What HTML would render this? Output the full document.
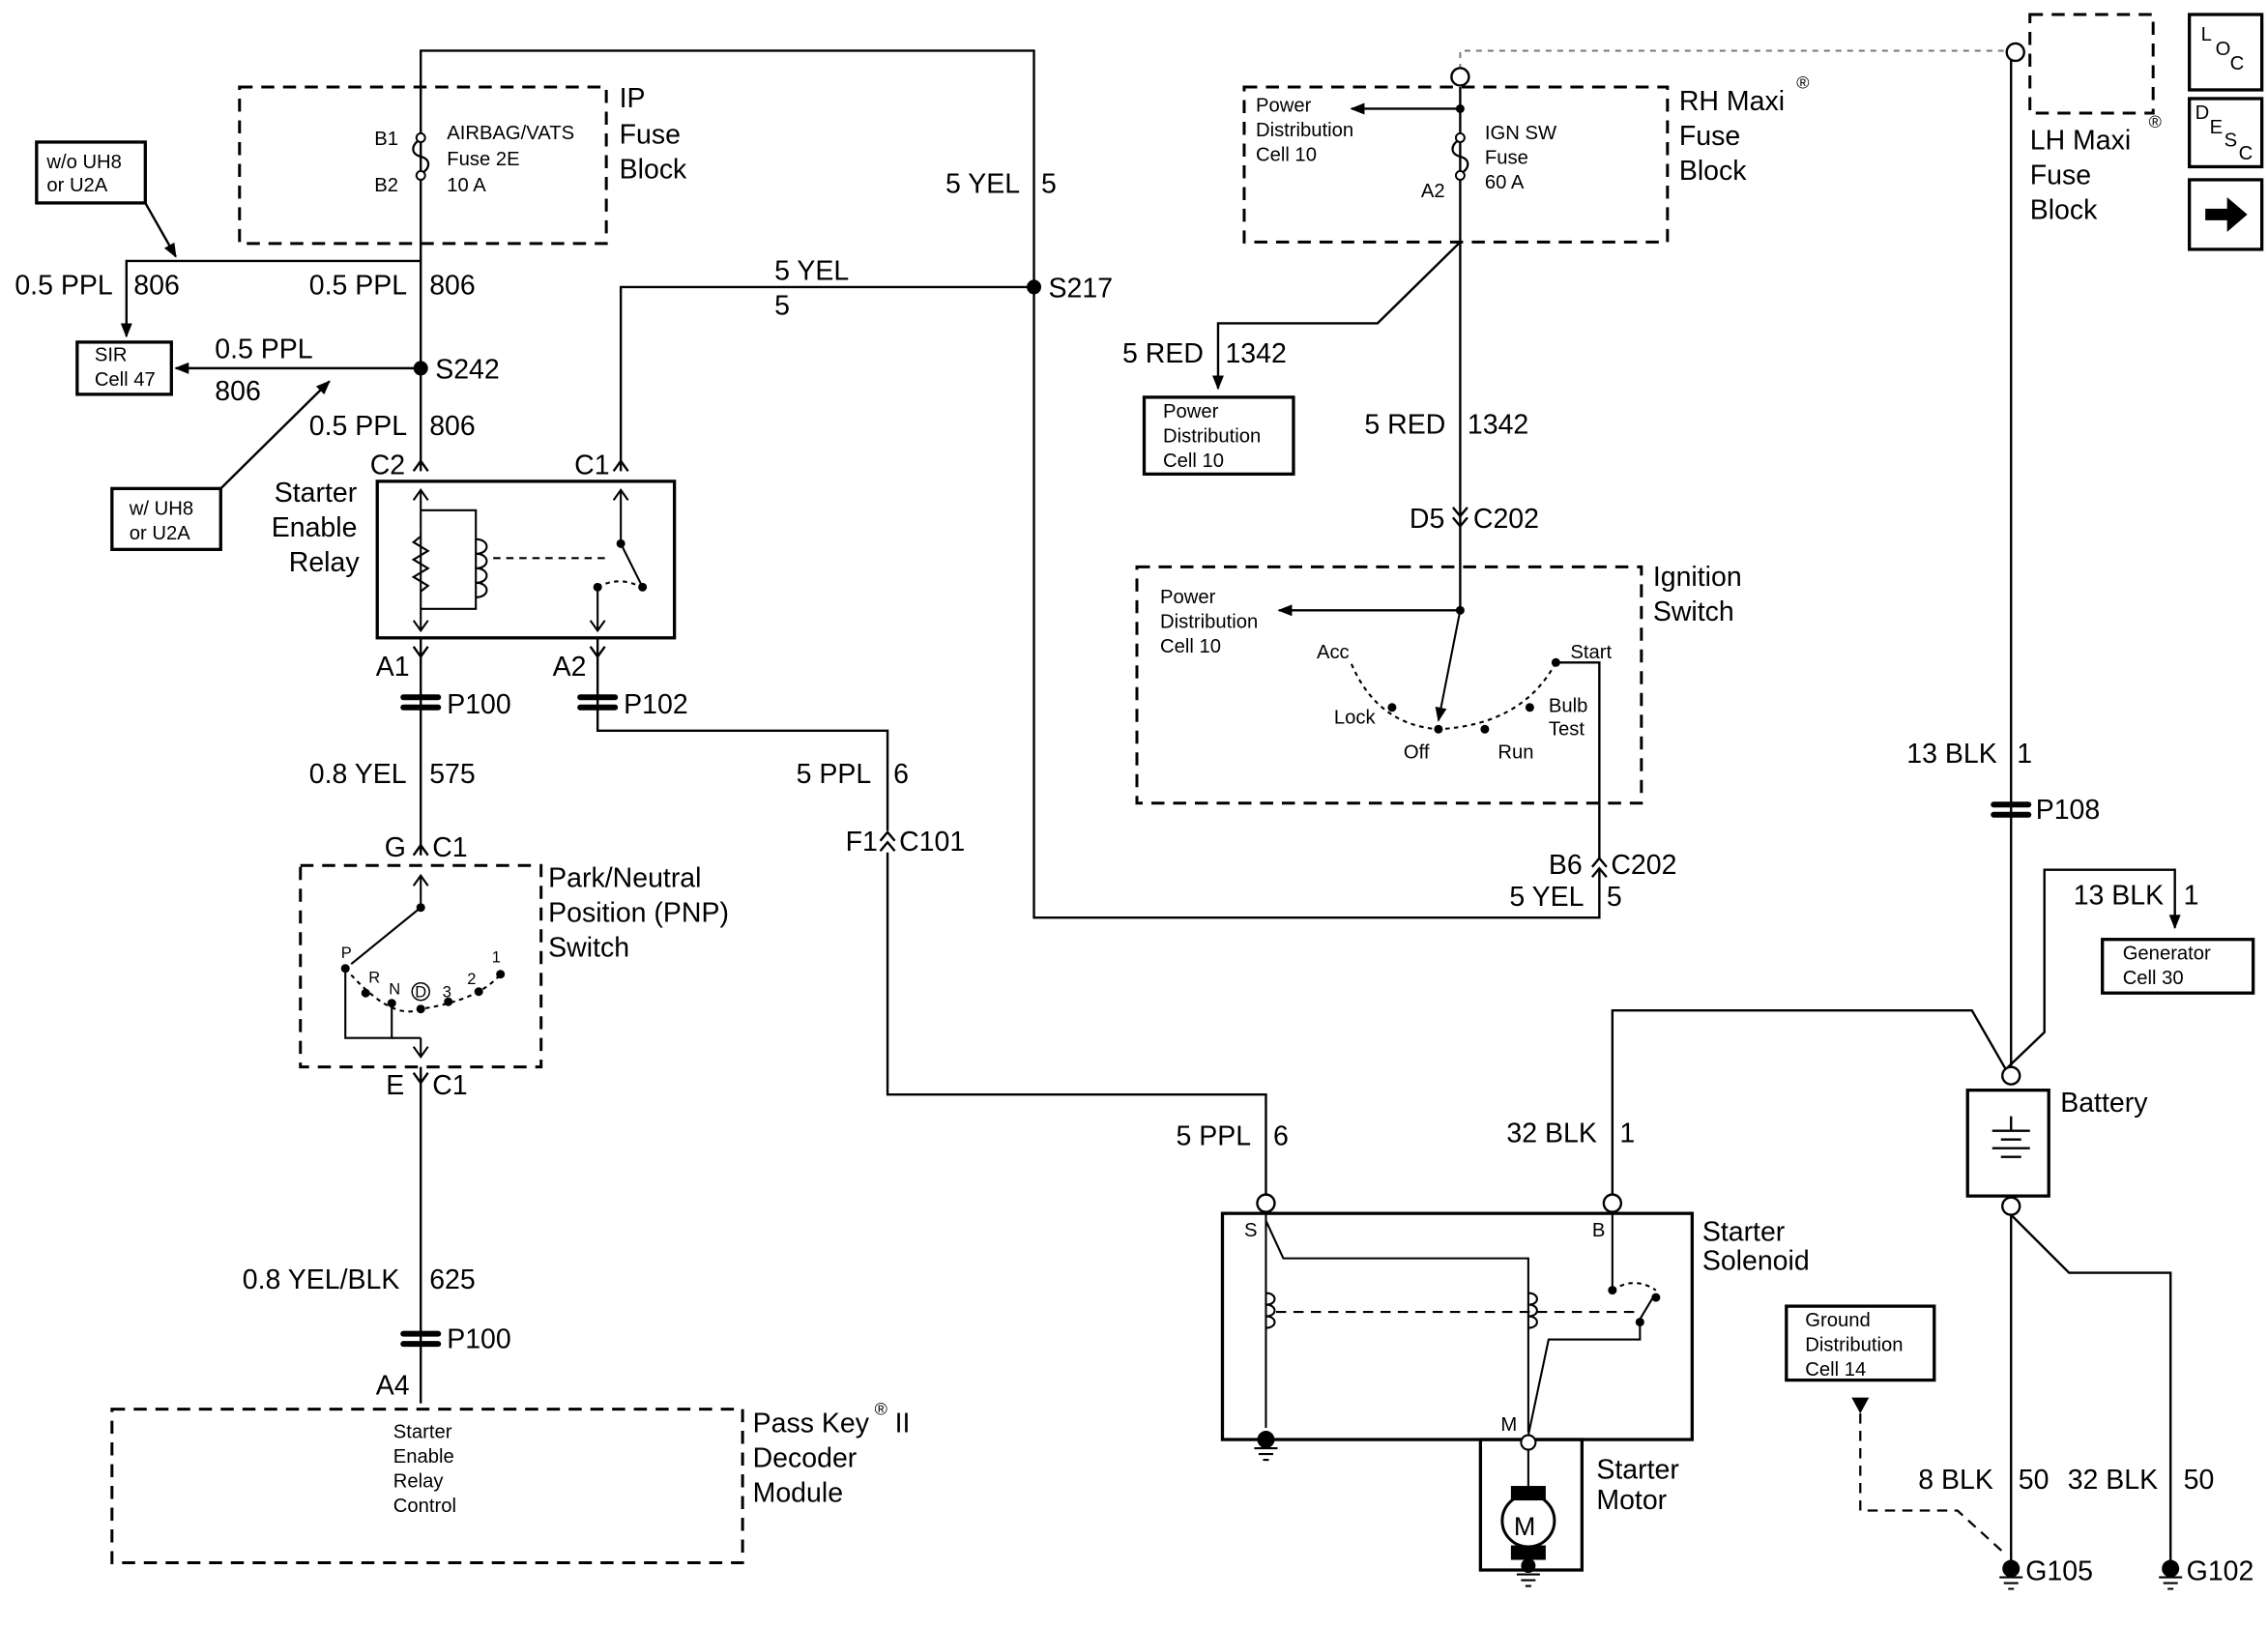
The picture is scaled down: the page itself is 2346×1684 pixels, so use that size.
<!DOCTYPE html>
<html><head><meta charset="utf-8"><style>
html,body{margin:0;padding:0;background:#fff}
svg{display:block}
text{font-family:"Liberation Sans",sans-serif;fill:#000}
.b{font-size:19px}
.s{font-size:13.5px}
</style></head><body>
<svg width="2346" height="1684" viewBox="0 0 1564 1123" xmlns="http://www.w3.org/2000/svg">
<defs>
<marker id="ar" markerWidth="10" markerHeight="10" refX="9" refY="5" orient="auto" markerUnits="userSpaceOnUse"><path d="M0,1 L10,5 L0,9z" fill="#000"/></marker>
</defs>
<g fill="none" stroke="#000" stroke-width="1.6">
<polyline points="290,325 290,35 713,35 713,633 1103,633 1103,600"/>
<polyline points="1103,592 1103,457 1073,457"/>
<polyline points="290,180 87,180 87,232" marker-end="url(#ar)"/>
<line x1="290" y1="254" x2="121" y2="254" marker-end="url(#ar)"/>
<line x1="100" y1="140" x2="121" y2="177" marker-end="url(#ar)"/>
<line x1="152" y1="337" x2="227" y2="263" marker-end="url(#ar)"/>
<polyline points="713,198 428,198 428,325"/>
<line x1="290" y1="440" x2="290" y2="590"/>
<polyline points="412,440 412,504 612,504 612,573"/>
<polyline points="612,588 612,755 873,755 873,825"/>
<line x1="290" y1="736" x2="290" y2="968"/>
<line x1="1007" y1="60" x2="1007" y2="420"/>
<line x1="1007" y1="75" x2="932" y2="75" marker-end="url(#ar)"/>
<polyline points="1007,167 950,223 840,223 840,268" marker-end="url(#ar)"/>
<line x1="1007" y1="421" x2="882" y2="421" marker-end="url(#ar)"/>
<line x1="1387" y1="40" x2="1387" y2="736"/>
<polyline points="1384,737 1410,712 1410,600 1500,600 1500,640" marker-end="url(#ar)"/>
<polyline points="1383,737 1360,697 1112,697 1112,825"/>
<polyline points="1387,838 1387,1080"/>
<polyline points="1387,838 1427,878 1497,878 1497,1080"/>
</g>
<g fill="none" stroke="#000" stroke-width="2" stroke-dasharray="9,6">
<rect x="165" y="60" width="253" height="108"/>
<rect x="858" y="60" width="292" height="107"/>
<rect x="784" y="391" width="348" height="163"/>
<rect x="207" y="597" width="166" height="139"/>
<rect x="77" y="972" width="435" height="106"/>
<rect x="1400" y="10" width="85" height="68"/>
</g>
<polyline points="1007,48 1007,35 1385,35" fill="none" stroke="#777" stroke-width="1.3" stroke-dasharray="4,4"/>
<polyline points="1283,975 1283,1042 1350,1042 1383,1072" fill="none" stroke="#000" stroke-width="1.5" stroke-dasharray="7,5"/>
<path d="M1277,964 L1289,964 L1283,975z"/>
<g fill="#fff" stroke="#000" stroke-width="1.6">
<circle cx="1007" cy="53" r="6"/><circle cx="1390" cy="36" r="6"/>
<circle cx="1387" cy="742" r="6"/><circle cx="1387" cy="832" r="6"/>
<circle cx="873" cy="830" r="6"/><circle cx="1112" cy="830" r="6"/>
</g>
<g fill="none" stroke="#000" stroke-width="2.2">
<rect x="25" y="98" width="75" height="42"/>
<rect x="53" y="236" width="65" height="36"/>
<rect x="77" y="337" width="75" height="42"/>
<rect x="260" y="332" width="205" height="108"/>
<rect x="789" y="274" width="103" height="53"/>
<rect x="1450" y="648" width="104" height="37"/>
<rect x="1357" y="752" width="56" height="73"/>
<rect x="1232" y="901" width="102" height="51"/>
<rect x="843" y="837" width="324" height="156"/>
<rect x="1021" y="993" width="70" height="90"/>
<rect x="1510" y="10" width="50" height="52"/>
<rect x="1510" y="68" width="50" height="47"/>
<rect x="1510" y="124" width="50" height="48"/>
</g>
<path d="M1521,144 L1536,144 L1536,136 L1550,148 L1536,160 L1536,152 L1521,152z"/>
<g fill="none" stroke="#000" stroke-width="1.5">
<path d="M290,96 c-7,4 -7,10 0,12 c7,2 7,8 0,12"/>
<path d="M1007,96 c-7,4 -7,10 0,12 c7,2 7,8 0,12"/>
</g>
<g fill="#fff" stroke="#000" stroke-width="1.3">
<circle cx="290" cy="95" r="3"/><circle cx="290" cy="121" r="3"/>
<circle cx="1007" cy="95" r="3"/><circle cx="1007" cy="121" r="3"/>
</g>
<g fill="#000">
<circle cx="290" cy="254" r="5"/><circle cx="713" cy="198" r="5"/>
<circle cx="1007" cy="75" r="3"/><circle cx="1007" cy="421" r="3"/>
</g>
<g fill="none" stroke="#000" stroke-width="1.6">
<path d="M285,325 L290,318 L295,325 M423,325 L428,318 L433,325"/>
<path d="M285,446 L290,453 L295,446 M407,446 L412,453 L417,446"/>
<path d="M285,590 L290,583 L295,590 M285,740 L290,747 L295,740"/>
<path d="M1002,350 L1007,356 L1012,350 M1002,357 L1007,363 L1012,357"/>
<path d="M607,580 L612,574 L617,580 M607,587 L612,581 L617,587"/>
<path d="M1098,598 L1103,592 L1108,598 M1098,605 L1103,599 L1108,605"/>
</g>
<g fill="#000">
<rect x="276" y="479" width="28" height="4" rx="2"/><rect x="276" y="486" width="28" height="4" rx="2"/>
<rect x="398" y="479" width="28" height="4" rx="2"/><rect x="398" y="486" width="28" height="4" rx="2"/>
<rect x="276" y="918" width="28" height="4" rx="2"/><rect x="276" y="925" width="28" height="4" rx="2"/>
<rect x="1373" y="553" width="28" height="4" rx="2"/><rect x="1373" y="560" width="28" height="4" rx="2"/>
</g>
<g fill="none" stroke="#000" stroke-width="1.4">
<line x1="290" y1="338" x2="290" y2="435"/>
<polyline points="290,352 328,352 328,420 290,420"/>
<path d="M290,370 l-5,4 l10,6 l-10,6 l10,6 l-10,6 l10,6 l-5,4"/>
<path d="M328,372 c10,0 10,10 0,10 c10,0 10,10 0,10 c10,0 10,10 0,10 c10,0 10,10 0,10"/>
<line x1="340" y1="385" x2="420" y2="385" stroke-dasharray="5,4"/>
<polyline points="428,338 428,375 443,405"/>
<polyline points="412,435 412,405"/>
<path d="M412,405 q15,-8 30,0" stroke-dasharray="3,3"/>
<path d="M285,345 L290,338 L295,345 M285,428 L290,435 L295,428 M423,345 L428,338 L433,345 M407,428 L412,435 L417,428"/>
</g>
<g fill="#000"><circle cx="428" cy="375" r="3"/><circle cx="412" cy="405" r="3"/><circle cx="443" cy="405" r="3"/></g>
<g fill="none" stroke="#000" stroke-width="1.4">
<line x1="1007" y1="421" x2="992" y2="497" marker-end="url(#ar)"/>
<path d="M932,458 Q950,500 992,503 Q1050,500 1073,457" stroke-dasharray="3,3"/>
</g>
<g fill="#000"><circle cx="960" cy="488" r="3"/><circle cx="992" cy="503" r="3"/><circle cx="1024" cy="503" r="3"/><circle cx="1055" cy="488" r="3"/><circle cx="1073" cy="457" r="3"/></g>
<g fill="none" stroke="#000" stroke-width="1.4">
<polyline points="290,604 290,626 242,665"/>
<path d="M285,611 L290,604 L295,611 M285,722 L290,729 L295,722"/>
<polyline points="238,668 238,716 270,716 270,692"/>
<line x1="290" y1="716" x2="290" y2="729"/>
<line x1="270" y1="716" x2="290" y2="716"/>
<path d="M238,668 Q270,705 290,696 Q330,690 345,672" stroke-dasharray="3,3"/>
</g>
<g fill="#000"><circle cx="290" cy="626" r="3"/><circle cx="238" cy="668" r="3"/><circle cx="252" cy="685" r="3"/><circle cx="270" cy="692" r="3"/><circle cx="290" cy="696" r="3"/><circle cx="309" cy="691" r="3"/><circle cx="330" cy="684" r="3"/><circle cx="345" cy="672" r="3"/></g>
<circle cx="290" cy="684" r="6" fill="none" stroke="#000"/>
<g stroke="#000" stroke-width="1.6">
<line x1="1387" y1="770" x2="1387" y2="780"/><line x1="1374" y1="780" x2="1400" y2="780"/>
<line x1="1380" y1="786" x2="1394" y2="786"/><line x1="1374" y1="792" x2="1400" y2="792"/>
<line x1="1380" y1="798" x2="1394" y2="798"/>
</g>
<g fill="none" stroke="#000" stroke-width="1.4">
<line x1="873" y1="837" x2="873" y2="985"/>
<polyline points="873,842 885,868 1054,868 1054,988"/>
<path d="M873,892 c8,0 8,8 0,8 c8,0 8,8 0,8 c8,0 8,8 0,8 M1054,892 c8,0 8,8 0,8 c8,0 8,8 0,8 c8,0 8,8 0,8"/>
<line x1="880" y1="905" x2="1130" y2="905" stroke-dasharray="7,5"/>
<polyline points="1112,837 1112,890"/>
<path d="M1112,890 q15,-10 30,0" stroke-dasharray="3,3"/>
<polyline points="1054,990 1068,924 1131,924 1131,910 1140,895"/>
<line x1="1054" y1="1000" x2="1054" y2="1030"/>
<circle cx="1054" cy="1049" r="18" stroke-width="2"/>
</g>
<circle cx="1054" cy="995" r="5" fill="#fff" stroke="#000" stroke-width="1.4"/>
<rect x="1042" y="1025" width="24" height="10"/><rect x="1042" y="1066" width="24" height="10"/>
<g fill="#000"><circle cx="1112" cy="890" r="3"/><circle cx="1142" cy="895" r="3"/><circle cx="1131" cy="912" r="3"/>
<circle cx="873" cy="993" r="6"/><circle cx="1054" cy="1080" r="5"/><circle cx="1387" cy="1082" r="6"/><circle cx="1497" cy="1082" r="6"/></g>
<g stroke="#000" stroke-width="1.4">
<path d="M865,999 h16 M868,1003 h10 M871,1007 h4"/>
<path d="M1046,1086 h16 M1049,1090 h10 M1052,1094 h4"/>
<path d="M1379,1088 h16 M1382,1092 h10 M1385,1096 h4"/>
<path d="M1489,1088 h16 M1492,1092 h10 M1495,1096 h4"/>
</g>
<text x="1044" y="1059" font-size="18">M</text>
<g class="b">
<text x="427" y="74">IP</text><text x="427" y="99">Fuse</text><text x="427" y="123">Block</text>
<text x="10" y="203">0.5 PPL</text><text x="92" y="203">806</text>
<text x="213" y="203">0.5 PPL</text><text x="296" y="203">806</text>
<text x="148" y="247">0.5 PPL</text><text x="148" y="276">806</text>
<text x="300" y="261">S242</text>
<text x="213" y="300">0.5 PPL</text><text x="296" y="300">806</text>
<text x="255" y="327">C2</text><text x="396" y="327">C1</text>
<text x="189" y="346">Starter</text><text x="187" y="370">Enable</text><text x="199" y="394">Relay</text>
<text x="652" y="133">5 YEL</text><text x="718" y="133">5</text>
<text x="534" y="193">5 YEL</text><text x="534" y="217">5</text>
<text x="723" y="205">S217</text>
<text x="259" y="466">A1</text><text x="381" y="466">A2</text>
<text x="308" y="492">P100</text><text x="430" y="492">P102</text>
<text x="213" y="540">0.8 YEL</text><text x="296" y="540">575</text>
<text x="549" y="540">5 PPL</text><text x="616" y="540">6</text>
<text x="583" y="587">F1</text><text x="620" y="587">C101</text>
<text x="265" y="591">G</text><text x="298" y="591">C1</text>
<text x="378" y="612">Park/Neutral</text><text x="378" y="636">Position (PNP)</text><text x="378" y="660">Switch</text>
<text x="266" y="755">E</text><text x="298" y="755">C1</text>
<text x="167" y="889">0.8 YEL/BLK</text><text x="296" y="889">625</text>
<text x="308" y="930">P100</text>
<text x="259" y="962">A4</text>
<text x="519" y="988">Pass Key</text><text x="617" y="988">II</text><text x="519" y="1012">Decoder</text><text x="519" y="1036">Module</text>
<text x="1158" y="76">RH Maxi</text><text x="1158" y="100">Fuse</text><text x="1158" y="124">Block</text>
<text x="774" y="250">5 RED</text><text x="845" y="250">1342</text>
<text x="941" y="299">5 RED</text><text x="1012" y="299">1342</text>
<text x="972" y="364">D5</text><text x="1016" y="364">C202</text>
<text x="1140" y="404">Ignition</text><text x="1140" y="428">Switch</text>
<text x="1068" y="603">B6</text><text x="1111" y="603">C202</text>
<text x="1041" y="625">5 YEL</text><text x="1108" y="625">5</text>
<text x="1400" y="103">LH Maxi</text><text x="1400" y="127">Fuse</text><text x="1400" y="151">Block</text>
<text x="1315" y="526">13 BLK</text><text x="1391" y="526">1</text>
<text x="1404" y="565">P108</text>
<text x="1430" y="624">13 BLK</text><text x="1506" y="624">1</text>
<text x="1421" y="767">Battery</text>
<text x="811" y="790">5 PPL</text><text x="878" y="790">6</text>
<text x="1039" y="788">32 BLK</text><text x="1117" y="788">1</text>
<text x="1174" y="856">Starter</text><text x="1174" y="876">Solenoid</text>
<text x="1101" y="1020">Starter</text><text x="1101" y="1041">Motor</text>
<text x="1323" y="1027">8 BLK</text><text x="1392" y="1027">50</text>
<text x="1426" y="1027">32 BLK</text><text x="1506" y="1027">50</text>
<text x="1397" y="1090">G105</text><text x="1508" y="1090">G102</text>
</g>
<g class="s">
<text x="32" y="116">w/o UH8</text><text x="32" y="132">or U2A</text>
<text x="65" y="249">SIR</text><text x="65" y="266">Cell 47</text>
<text x="89" y="355">w/ UH8</text><text x="89" y="372">or U2A</text>
<text x="258" y="100">B1</text><text x="258" y="132">B2</text>
<text x="308" y="96">AIRBAG/VATS</text><text x="308" y="114">Fuse 2E</text><text x="308" y="132">10 A</text>
<text x="866" y="77">Power</text><text x="866" y="94">Distribution</text><text x="866" y="111">Cell 10</text>
<text x="1024" y="96">IGN SW</text><text x="1024" y="113">Fuse</text><text x="1024" y="130">60 A</text>
<text x="980" y="136">A2</text>
<text x="802" y="288">Power</text><text x="802" y="305">Distribution</text><text x="802" y="322">Cell 10</text>
<text x="800" y="416">Power</text><text x="800" y="433">Distribution</text><text x="800" y="450">Cell 10</text>
<text x="908" y="454">Acc</text><text x="1083" y="454">Start</text>
<text x="920" y="499">Lock</text><text x="1068" y="491">Bulb</text><text x="1068" y="507">Test</text>
<text x="968" y="523">Off</text><text x="1033" y="523">Run</text>
<text x="1464" y="662">Generator</text><text x="1464" y="679">Cell 30</text>
<text x="1245" y="915">Ground</text><text x="1245" y="932">Distribution</text><text x="1245" y="949">Cell 14</text>
<text x="271" y="992">Starter</text><text x="271" y="1009">Enable</text><text x="271" y="1026">Relay</text><text x="271" y="1043">Control</text>
<text x="858" y="853">S</text><text x="1098" y="853">B</text><text x="1035" y="987">M</text>
<text x="1518" y="28">L</text><text x="1528" y="38">O</text><text x="1538" y="48">C</text>
<text x="1514" y="82">D</text><text x="1524" y="92">E</text><text x="1534" y="101">S</text><text x="1544" y="110">C</text>
<text x="1482" y="88" font-size="12">®</text><text x="1239" y="61" font-size="12">®</text><text x="603" y="976" font-size="12">®</text>
<text x="235" y="661" font-size="11">P</text><text x="254" y="678" font-size="11">R</text><text x="268" y="686" font-size="11">N</text><text x="286" y="688" font-size="11">D</text><text x="305" y="688" font-size="11">3</text><text x="322" y="679" font-size="11">2</text><text x="339" y="664" font-size="11">1</text>
</g>
</svg>
</body></html>
